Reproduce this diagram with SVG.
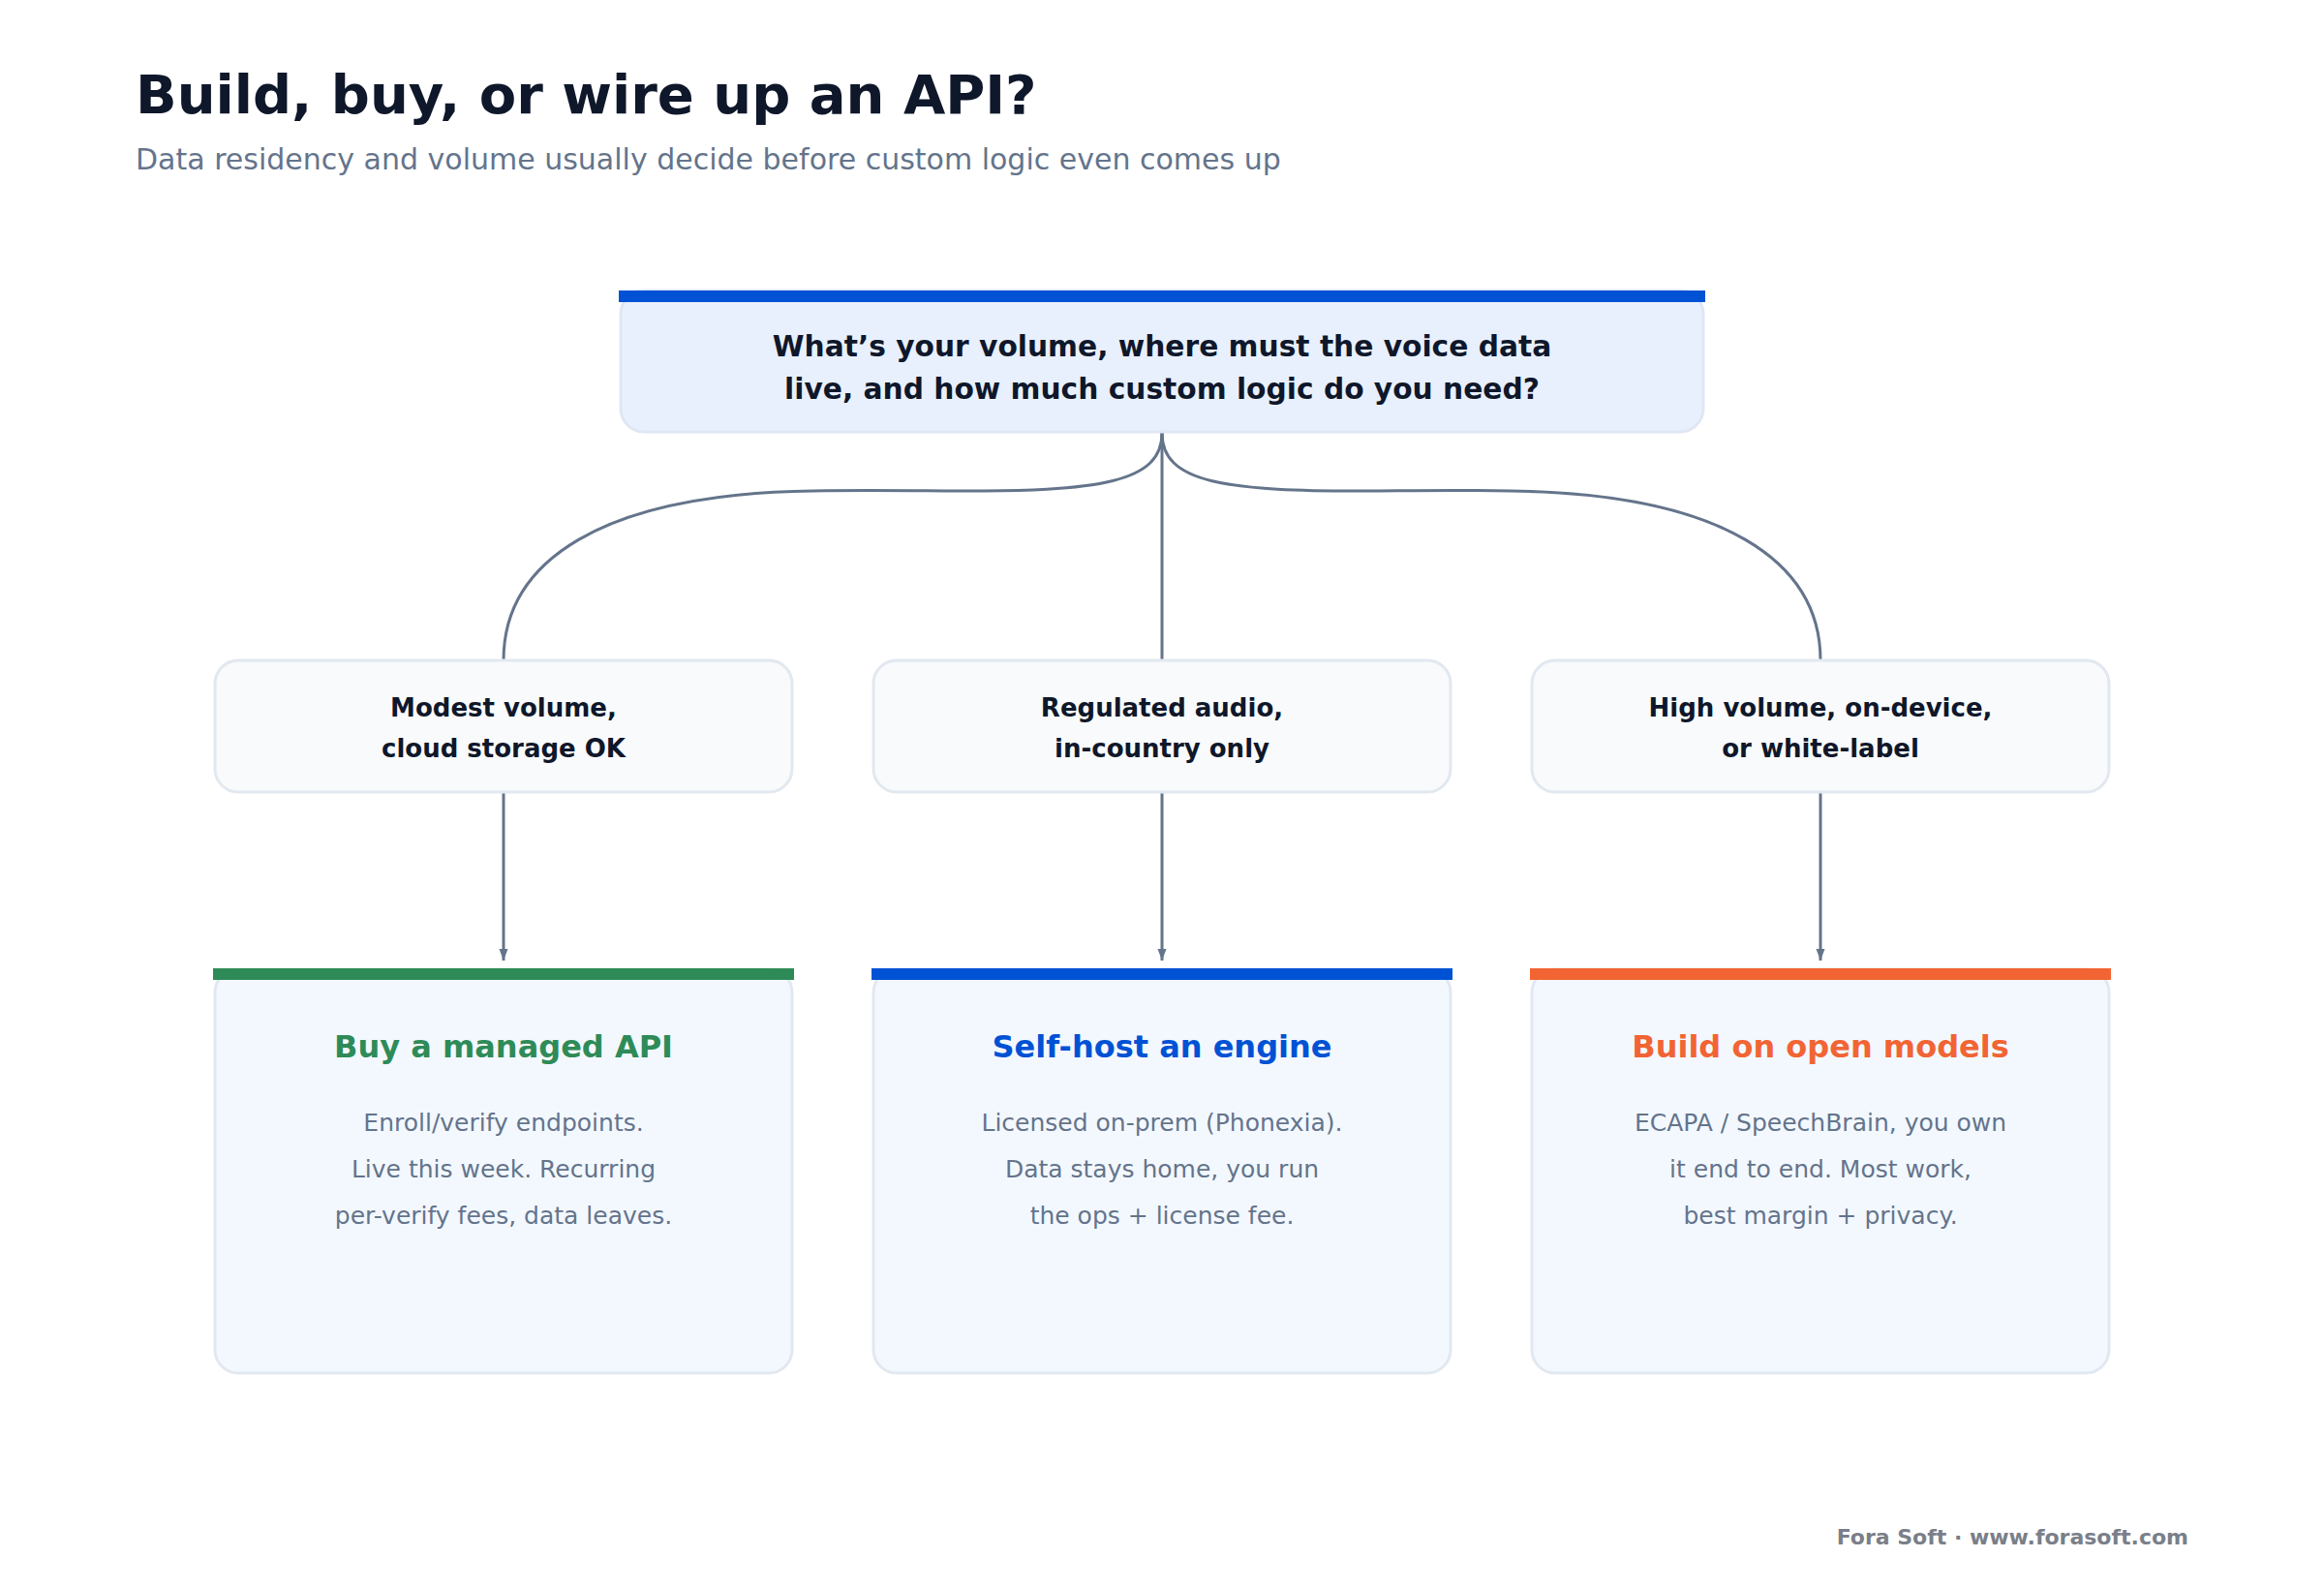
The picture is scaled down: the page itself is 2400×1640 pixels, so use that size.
<svg xmlns="http://www.w3.org/2000/svg" width="2400" height="1640" viewBox="0 0 2400 1640">
<defs>
<marker id="ah" markerWidth="12" markerHeight="16" refX="16" refY="6" orient="auto" markerUnits="userSpaceOnUse" viewBox="0 0 16 12">
<path d="M0,0 L16,6 L0,12 Z" fill="#64748b"/>
</marker>
</defs>
<style>
text{font-family:"DejaVu Sans","Noto Sans",sans-serif}
.title{font-size:56px;font-weight:bold;fill:#0f172a}
.sub{font-size:30px;fill:#64748b}
.q{font-size:29.7px;font-weight:bold;fill:#0f172a;text-anchor:middle}
.mid{font-size:26px;font-weight:bold;fill:#0f172a;text-anchor:middle}
.ot{font-size:32px;font-weight:bold;text-anchor:middle}
.body{font-size:25px;fill:#64748b;text-anchor:middle}
.foot{font-size:22px;font-weight:bold;fill:#7a7f89;text-anchor:end}
.midbox{fill:#f8fafc;stroke:#e2e8f0;stroke-width:3}
.outbox{fill:#f3f8ff;stroke:#e2e8f0;stroke-width:3}
.conn{fill:none;stroke:#64748b;stroke-width:3}
</style>
<rect width="2400" height="1640" fill="#ffffff"/>
<text class="title" x="140" y="117">Build, buy, or wire up an API?</text>
<text class="sub" x="140" y="175">Data residency and volume usually decide before custom logic even comes up</text>

<g id="connectors">
<path class="conn" d="M1200,447 C1200,498 1262,508 1420,507 C1480,506.5 1510,506 1560,507 C1780,510 1880,580 1880,682"/>
<path class="conn" d="M1200,447 C1200,498 1138,508 980,507 C920,506.5 890,506 840,507 C620,510 520,580 520,682"/>
<path class="conn" d="M1200,447 L1200,682"/>
<path class="conn" d="M520,819 L520,992" marker-end="url(#ah)"/>
<path class="conn" d="M1200,819 L1200,992" marker-end="url(#ah)"/>
<path class="conn" d="M1880,819 L1880,992" marker-end="url(#ah)"/>
</g>

<g id="question">
<rect x="641" y="300" width="1118" height="146" rx="24" fill="#e8f0fe" stroke="#dfe7f3" stroke-width="3"/>
<rect x="639" y="300" width="1122" height="12" fill="#0052d4"/>
<text class="q" x="1200" y="368">What’s your volume, where must the voice data</text>
<text class="q" x="1200" y="412">live, and how much custom logic do you need?</text>
</g>

<g id="cond-modest">
<rect class="midbox" x="222" y="682" width="596" height="136" rx="24"/>
<text class="mid" x="520" y="740">Modest volume,</text>
<text class="mid" x="520" y="782">cloud storage OK</text>
</g>
<g id="cond-regulated">
<rect class="midbox" x="902" y="682" width="596" height="136" rx="24"/>
<text class="mid" x="1200" y="740">Regulated audio,</text>
<text class="mid" x="1200" y="782">in-country only</text>
</g>
<g id="cond-high">
<rect class="midbox" x="1582" y="682" width="596" height="136" rx="24"/>
<text class="mid" x="1880" y="740">High volume, on-device,</text>
<text class="mid" x="1880" y="782">or white-label</text>
</g>

<g id="opt-buy">
<rect class="outbox" x="222" y="1001" width="596" height="417" rx="24"/>
<rect x="220" y="1000" width="600" height="12" fill="#2e8b57"/>
<text class="ot" x="520" y="1092" fill="#2e8b57">Buy a managed API</text>
<text class="body" x="520" y="1168">Enroll/verify endpoints.</text>
<text class="body" x="520" y="1216">Live this week. Recurring</text>
<text class="body" x="520" y="1264">per-verify fees, data leaves.</text>
</g>
<g id="opt-selfhost">
<rect class="outbox" x="902" y="1001" width="596" height="417" rx="24"/>
<rect x="900" y="1000" width="600" height="12" fill="#0052d4"/>
<text class="ot" x="1200" y="1092" fill="#0052d4">Self-host an engine</text>
<text class="body" x="1200" y="1168">Licensed on-prem (Phonexia).</text>
<text class="body" x="1200" y="1216">Data stays home, you run</text>
<text class="body" x="1200" y="1264">the ops + license fee.</text>
</g>
<g id="opt-build">
<rect class="outbox" x="1582" y="1001" width="596" height="417" rx="24"/>
<rect x="1580" y="1000" width="600" height="12" fill="#f26433"/>
<text class="ot" x="1880" y="1092" fill="#f26433">Build on open models</text>
<text class="body" x="1880" y="1168">ECAPA / SpeechBrain, you own</text>
<text class="body" x="1880" y="1216">it end to end. Most work,</text>
<text class="body" x="1880" y="1264">best margin + privacy.</text>
</g>

<text class="foot" x="2260" y="1595">Fora Soft · www.forasoft.com</text>
</svg>
